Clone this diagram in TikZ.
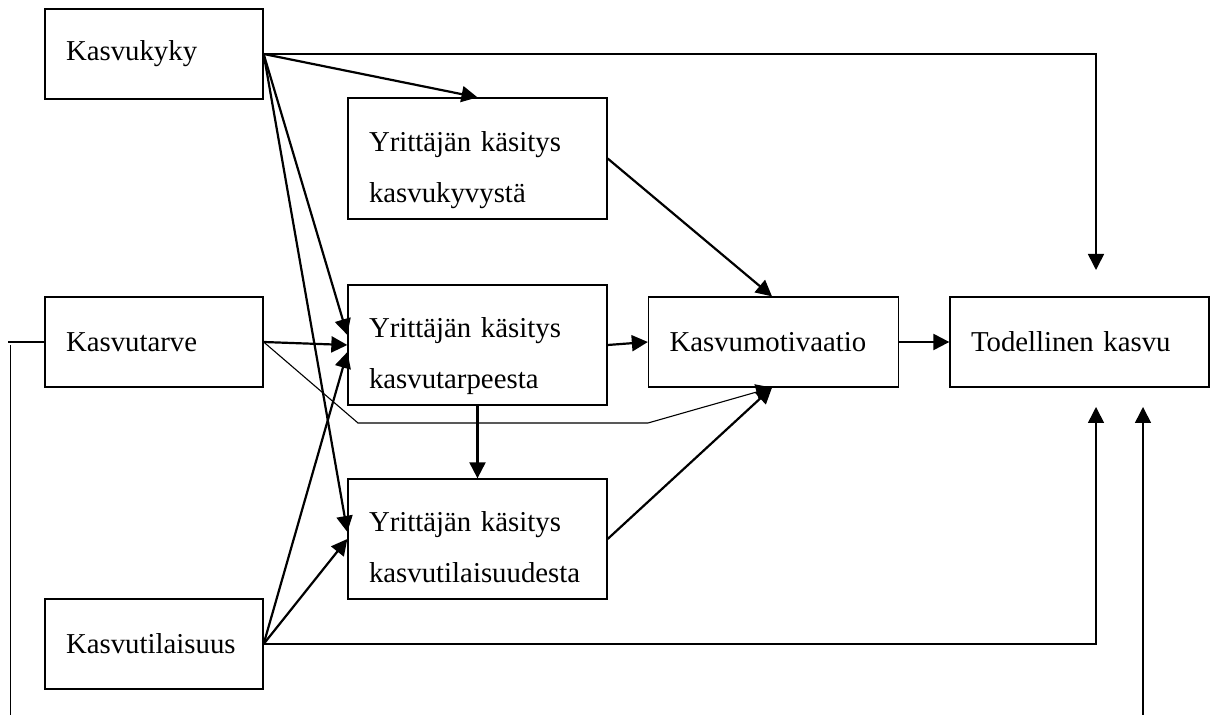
\documentclass[tikz,border=0pt]{standalone}
\usepackage{fontspec}
\setmainfont{Liberation Serif}
\usetikzlibrary{arrows.meta}

\newcommand{\topgap}[1]{\rule{0pt}{#1}}

\begin{document}
\begin{tikzpicture}[x=0.5pt,y=-0.5pt,
  box/.style={draw, line width=0.65pt, rectangle, align=left, anchor=center,
    inner xsep=10.5pt, inner ysep=0pt,
    font=\fontsize{14.4}{25.5}\selectfont},
  wbox/.style={box, text width=108.5pt, minimum height=60pt},
  nbox/.style={box, text width=88pt, minimum height=45pt},
  tip/.style={-{Triangle[length=8pt,width=8pt]}},
  link/.style={line width=1.1pt, tip},
  thinlink/.style={line width=0.55pt, tip},
  midlink/.style={line width=0.8pt, tip},
  plain/.style={line width=0.6pt}]

\useasboundingbox (0,0) rectangle (1216,715);

% source factors on the left
\node[nbox] (kyky)   at (154,54)  {Kasvukyky};
\node[nbox] (tarve)  at (154,342) {Kasvutarve};
\node[nbox] (tilais) at (154,644) {Kasvutilaisuus};

% perceptions of the entrepreneur (first line set a little lower)
\node[wbox, minimum height=60.5pt] (kasK) at (477.5,158.5)
  {\topgap{22pt}Yrittäjän käsitys\\kasvukyvystä};
\node[wbox] (kasT) at (477.5,345)
  {\topgap{21pt}Yrittäjän käsitys\\kasvutarpeesta};
\node[wbox] (kasO) at (477.5,539)
  {\topgap{18pt}Yrittäjän käsitys\\kasvutilaisuudesta};

% outcomes
\node[box, text width=104pt, minimum height=45pt] (motiv) at (773.5,342) {Kasvumotivaatio};
\node[wbox, minimum height=45pt] (tod) at (1079.5,342) {Todellinen kasvu};

% free ends of the long connectors
\coordinate (topIn)  at (1096,270);
\coordinate (botIn)  at (1096,407);
\coordinate (botIn2) at (1143,407);
\coordinate (botEnd) at (1143,715);
\coordinate (leftEnd) at (10.5,715);

% from Kasvukyky
\draw[midlink] (kyky.east) -- (1096,54) -- (topIn);
\draw[link] (kyky.east) -- (kasK.north);
\draw[link] (kyky.east) -- ([yshift=5pt]kasT.west);
\draw[link] (kyky.east) -- ([yshift=3.5pt]kasO.west);

% from Kasvutarve
\draw[link] (tarve.east) -- (kasT.west);
\draw[thinlink] (tarve.east) -- (358,423) -- (648,423) -- ([xshift=-0.75pt]motiv.south);
\draw[plain] (tarve.west) -- (8,342);
\draw[plain] (10.5,345) -- (leftEnd);

% from Kasvutilaisuus
\draw[link] (tilais.east) -- ([yshift=-3.5pt]kasT.west);
\draw[link] (tilais.east) -- (kasO.west);
\draw[midlink] (tilais.east) -- (1096,644) -- (botIn);

% perceptions to motivation
\draw[link] (kasK.east) -- ([xshift=-0.75pt]motiv.north);
\draw[link] (kasT.east) -- (motiv.west);
\draw[link] (kasT.south) -- (kasO.north);
\draw[link] (kasO.east) -- ([xshift=-0.75pt]motiv.south);

% motivation to growth
\draw[link] (motiv.east) -- (tod.west);
\draw[midlink] (botEnd) -- (botIn2);

\end{tikzpicture}
\end{document}
